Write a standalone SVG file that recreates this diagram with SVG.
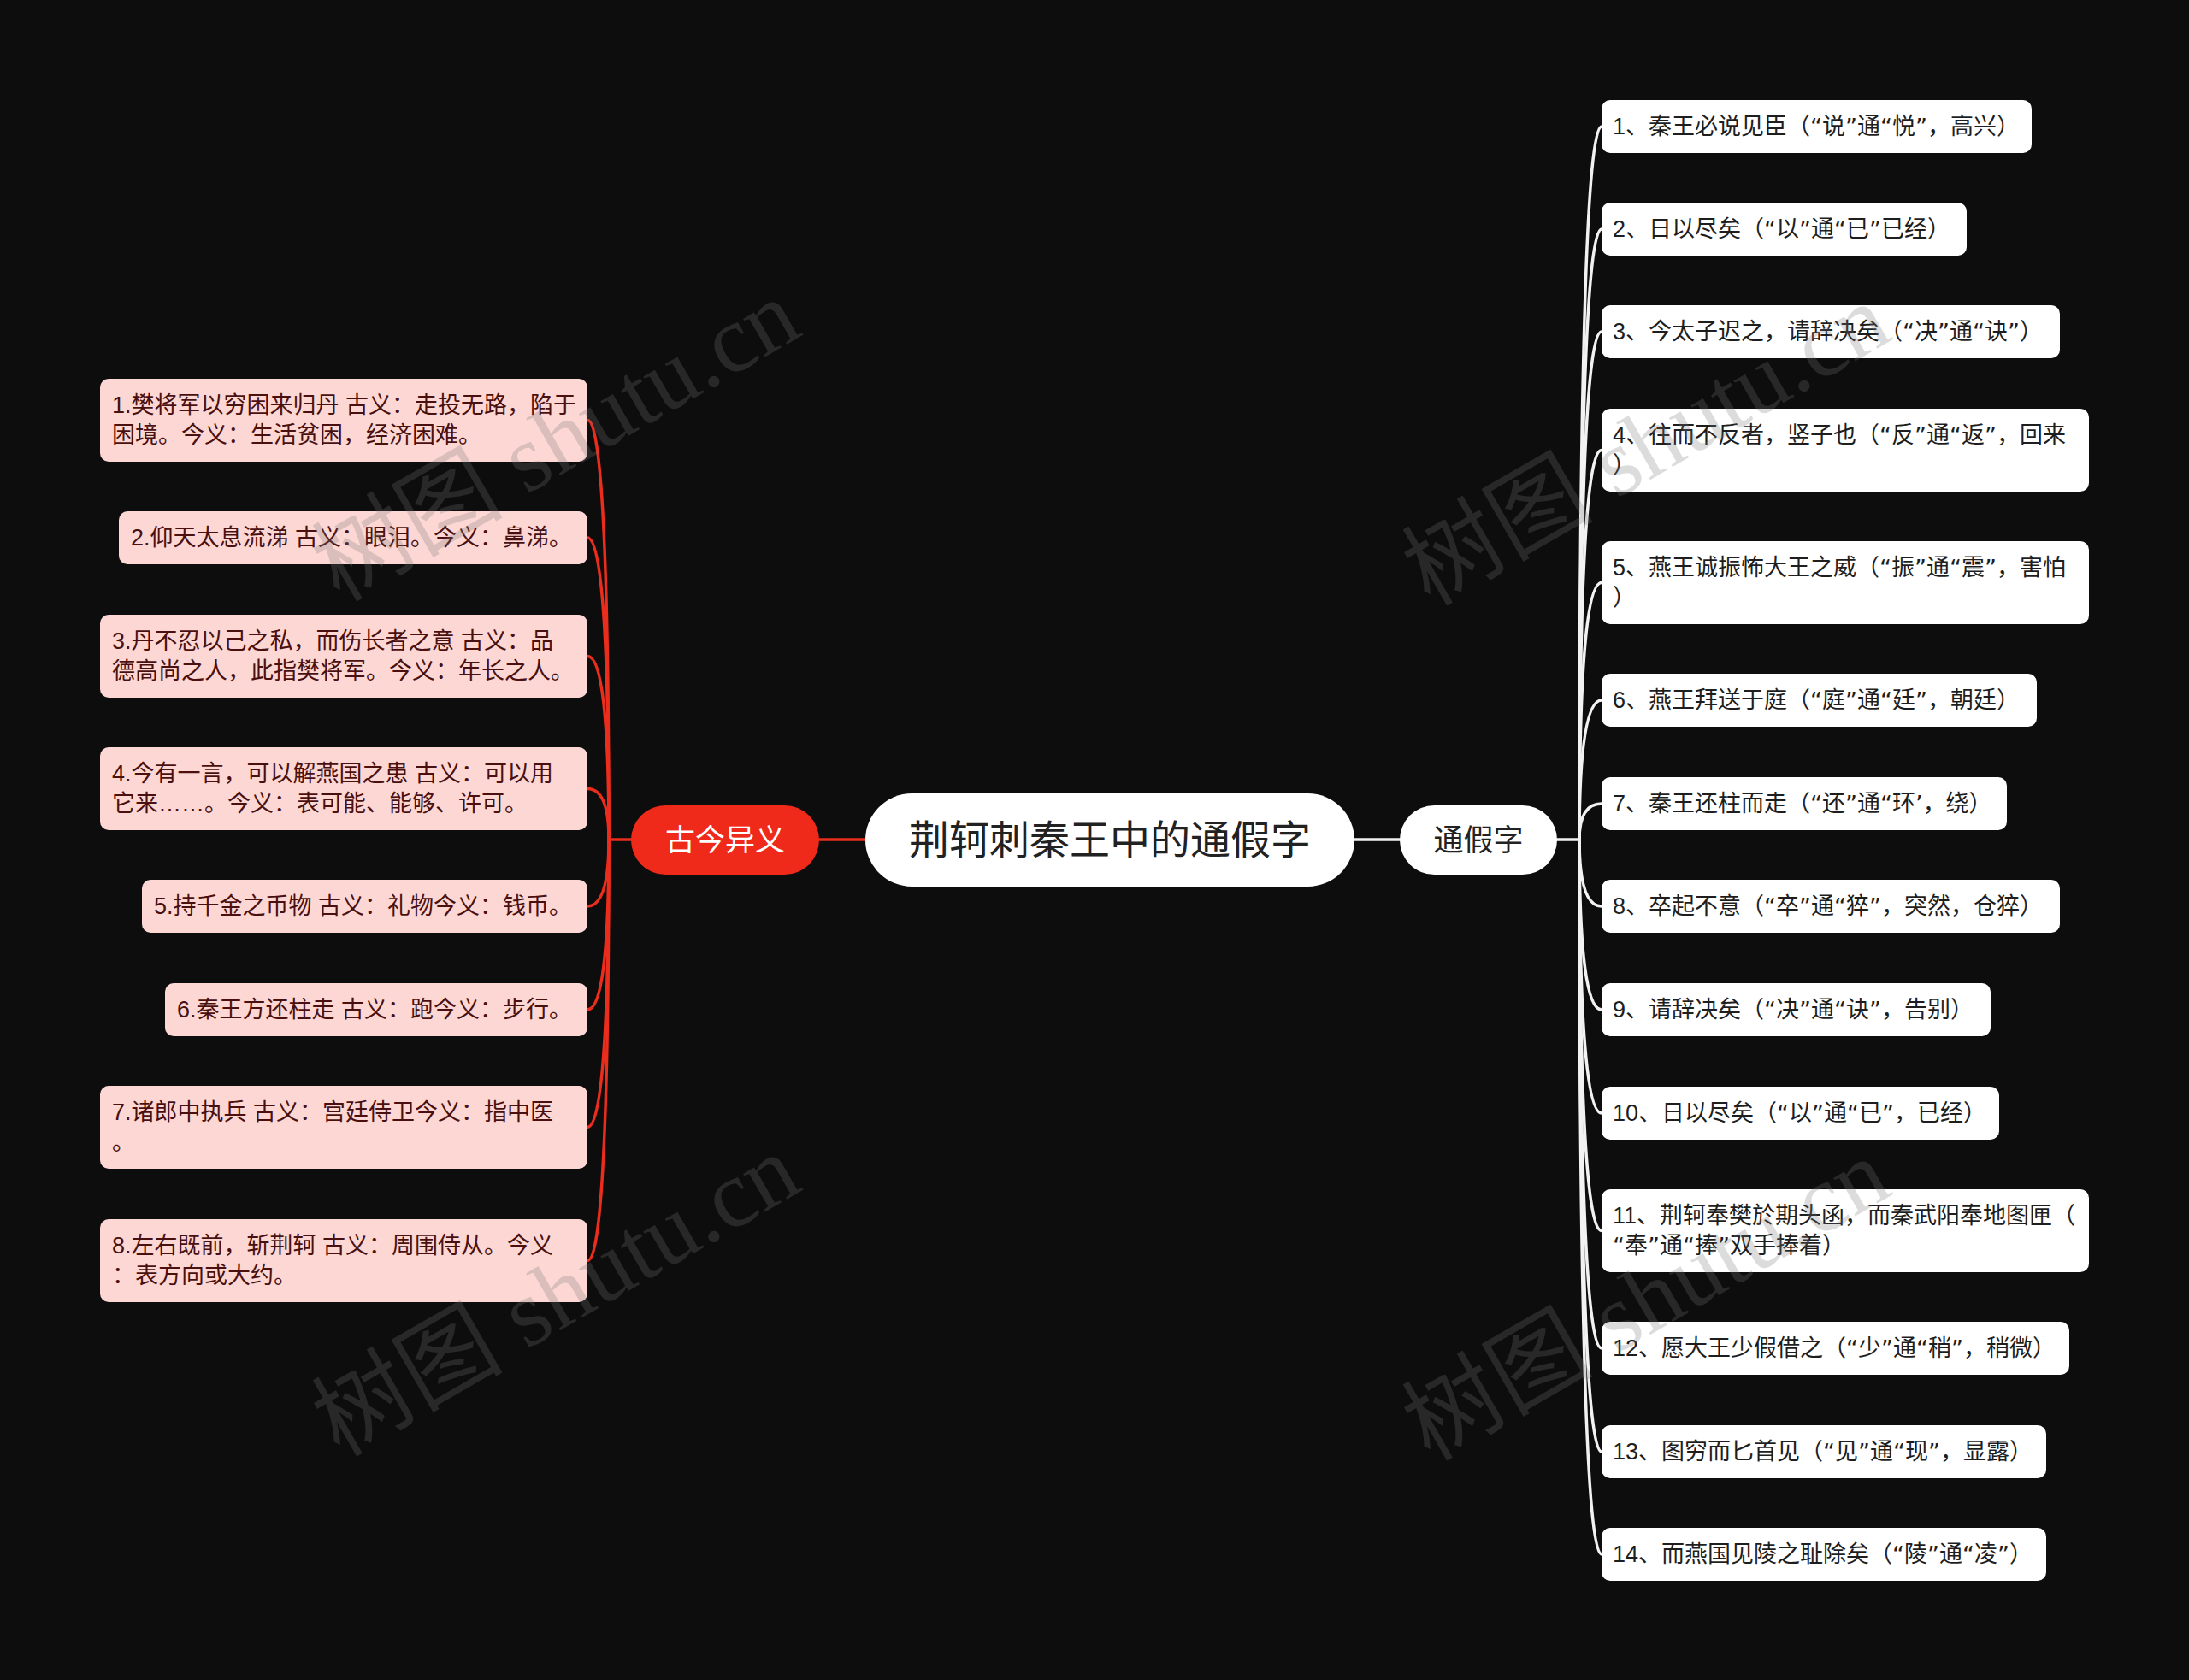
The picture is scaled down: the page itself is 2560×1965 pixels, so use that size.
<svg xmlns="http://www.w3.org/2000/svg" width="2560" height="1965" viewBox="0 0 2560 1965">
<style>
  .bg{fill:#0d0d0d}
  .t{font-family:"Liberation Sans","Noto Sans CJK SC",sans-serif;dominant-baseline:central}
  .q{font-family:"DejaVu Sans","Noto Sans CJK SC",sans-serif}
  .lbox{fill:#fdd7d3}
  .ltxt{font-size:27px;fill:#4a1010}
  .rbox{fill:#ffffff}
  .rtxt{font-size:27px;fill:#1e1e1e}
  .red{fill:none;stroke:#ea2d1d;stroke-width:3.5;stroke-linecap:round}
  .wht{fill:none;stroke:#f2f2f2;stroke-width:3.5;stroke-linecap:round}
  .wm{font-family:"Liberation Serif","Noto Sans CJK SC",serif;font-size:112px;fill:#797979;fill-opacity:0.26;text-anchor:middle;dominant-baseline:central}
</style>
<rect class="bg" x="0" y="0" width="2560" height="1965"/>

<g id="connectors">
  <path class="red" d="M958 982 H1012" stroke-width="4.5"/>
  <path class="wht" d="M1584 982 H1637" stroke-width="4.5"/>
  <path class="red" d="M738 982 H712"/>
  <path class="red" d="M712 982 Q712 491.5 687 491.5"/>
  <path class="red" d="M712 982 Q712 629 687 629"/>
  <path class="red" d="M712 982 Q712 767.5 687 767.5"/>
  <path class="red" d="M712 982 Q712 922.5 687 922.5"/>
  <path class="red" d="M712 982 Q712 1060 687 1060"/>
  <path class="red" d="M712 982 Q712 1181 687 1181"/>
  <path class="red" d="M712 982 Q712 1318.5 687 1318.5"/>
  <path class="red" d="M712 982 Q712 1474.5 687 1474.5"/>
  <path class="wht" d="M1821 982 H1847"/>
  <path class="wht" d="M1847 982 Q1847 148 1873 148"/>
  <path class="wht" d="M1847 982 Q1847 268 1873 268"/>
  <path class="wht" d="M1847 982 Q1847 388 1873 388"/>
  <path class="wht" d="M1847 982 Q1847 526.5 1873 526.5"/>
  <path class="wht" d="M1847 982 Q1847 681.5 1873 681.5"/>
  <path class="wht" d="M1847 982 Q1847 819 1873 819"/>
  <path class="wht" d="M1847 982 Q1847 940 1873 940"/>
  <path class="wht" d="M1847 982 Q1847 1060 1873 1060"/>
  <path class="wht" d="M1847 982 Q1847 1181 1873 1181"/>
  <path class="wht" d="M1847 982 Q1847 1302 1873 1302"/>
  <path class="wht" d="M1847 982 Q1847 1439.5 1873 1439.5"/>
  <path class="wht" d="M1847 982 Q1847 1577 1873 1577"/>
  <path class="wht" d="M1847 982 Q1847 1698 1873 1698"/>
  <path class="wht" d="M1847 982 Q1847 1818 1873 1818"/>
</g>

<g id="root">
  <rect x="1012" y="928" width="572" height="109" rx="54.5" fill="#ffffff"/>
  <text class="t" x="1298" y="982" font-size="47" fill="#222222" text-anchor="middle">荆轲刺秦王中的通假字</text>
</g>
<g id="branch-gujin">
  <rect x="738" y="942" width="220" height="81" rx="40.5" fill="#ef2a1a"/>
  <text class="t" x="848" y="982" font-size="35" fill="#ffffff" text-anchor="middle">古今异义</text>
</g>
<g id="branch-tongjia">
  <rect x="1637" y="942" width="184" height="81" rx="40.5" fill="#ffffff"/>
  <text class="t" x="1729" y="982" font-size="35" fill="#222222" text-anchor="middle">通假字</text>
</g>

<g id="L1"><rect class="lbox" x="117" y="443" width="570" height="97" rx="10"/>
  <text class="t ltxt" x="131" y="474">1.樊将军以穷困来归丹 古义：走投无路，陷于</text>
  <text class="t ltxt" x="131" y="509">困境。今义：生活贫困，经济困难。</text></g>
<g id="L2"><rect class="lbox" x="139" y="598" width="548" height="62" rx="10"/>
  <text class="t ltxt" x="153" y="629">2.仰天太息流涕 古义：眼泪。今义：鼻涕。</text></g>
<g id="L3"><rect class="lbox" x="117" y="719" width="570" height="97" rx="10"/>
  <text class="t ltxt" x="131" y="750">3.丹不忍以己之私，而伤长者之意 古义：品</text>
  <text class="t ltxt" x="131" y="785">德高尚之人，此指樊将军。今义：年长之人。</text></g>
<g id="L4"><rect class="lbox" x="117" y="874" width="570" height="97" rx="10"/>
  <text class="t ltxt" x="131" y="905">4.今有一言，可以解燕国之患 古义：可以用</text>
  <text class="t ltxt" x="131" y="940">它来……。今义：表可能、能够、许可。</text></g>
<g id="L5"><rect class="lbox" x="166" y="1029" width="521" height="62" rx="10"/>
  <text class="t ltxt" x="180" y="1060">5.持千金之币物 古义：礼物今义：钱币。</text></g>
<g id="L6"><rect class="lbox" x="193" y="1150" width="494" height="62" rx="10"/>
  <text class="t ltxt" x="207" y="1181">6.秦王方还柱走 古义：跑今义：步行。</text></g>
<g id="L7"><rect class="lbox" x="117" y="1270" width="570" height="97" rx="10"/>
  <text class="t ltxt" x="131" y="1301">7.诸郎中执兵 古义：宫廷侍卫今义：指中医</text>
  <text class="t ltxt" x="131" y="1336">。</text></g>
<g id="L8"><rect class="lbox" x="117" y="1426" width="570" height="97" rx="10"/>
  <text class="t ltxt" x="131" y="1457">8.左右既前，斩荆轲 古义：周围侍从。今义</text>
  <text class="t ltxt" x="131" y="1492">：表方向或大约。</text></g>

<g id="R1"><rect class="rbox" x="1873" y="117" width="503" height="62" rx="10"/>
  <text class="t rtxt" x="1886" y="148">1、秦王必说见臣（<tspan class="q">“</tspan>说<tspan class="q">”</tspan>通<tspan class="q">“</tspan>悦<tspan class="q">”</tspan>，高兴）</text></g>
<g id="R2"><rect class="rbox" x="1873" y="237" width="427" height="62" rx="10"/>
  <text class="t rtxt" x="1886" y="268">2、日以尽矣（<tspan class="q">“</tspan>以<tspan class="q">”</tspan>通<tspan class="q">“</tspan>已<tspan class="q">”</tspan>已经）</text></g>
<g id="R3"><rect class="rbox" x="1873" y="357" width="536" height="62" rx="10"/>
  <text class="t rtxt" x="1886" y="388">3、今太子迟之，请辞决矣（<tspan class="q">“</tspan>决<tspan class="q">”</tspan>通<tspan class="q">“</tspan>诀<tspan class="q">”</tspan>）</text></g>
<g id="R4"><rect class="rbox" x="1873" y="478" width="570" height="97" rx="10"/>
  <text class="t rtxt" x="1886" y="509">4、往而不反者，竖子也（<tspan class="q">“</tspan>反<tspan class="q">”</tspan>通<tspan class="q">“</tspan>返<tspan class="q">”</tspan>，回来</text>
  <text class="t rtxt" x="1886" y="544">）</text></g>
<g id="R5"><rect class="rbox" x="1873" y="633" width="570" height="97" rx="10"/>
  <text class="t rtxt" x="1886" y="664">5、燕王诚振怖大王之威（<tspan class="q">“</tspan>振<tspan class="q">”</tspan>通<tspan class="q">“</tspan>震<tspan class="q">”</tspan>，害怕</text>
  <text class="t rtxt" x="1886" y="699">）</text></g>
<g id="R6"><rect class="rbox" x="1873" y="788" width="509" height="62" rx="10"/>
  <text class="t rtxt" x="1886" y="819">6、燕王拜送于庭（<tspan class="q">“</tspan>庭<tspan class="q">”</tspan>通<tspan class="q">“</tspan>廷<tspan class="q">”</tspan>，朝廷）</text></g>
<g id="R7"><rect class="rbox" x="1873" y="909" width="474" height="62" rx="10"/>
  <text class="t rtxt" x="1886" y="940">7、秦王还柱而走（<tspan class="q">“</tspan>还<tspan class="q">”</tspan>通<tspan class="q">“</tspan>环<tspan class="q">’</tspan>，绕）</text></g>
<g id="R8"><rect class="rbox" x="1873" y="1029" width="536" height="62" rx="10"/>
  <text class="t rtxt" x="1886" y="1060">8、卒起不意（<tspan class="q">“</tspan>卒<tspan class="q">”</tspan>通<tspan class="q">“</tspan>猝<tspan class="q">”</tspan>，突然，仓猝）</text></g>
<g id="R9"><rect class="rbox" x="1873" y="1150" width="455" height="62" rx="10"/>
  <text class="t rtxt" x="1886" y="1181">9、请辞决矣（<tspan class="q">“</tspan>决<tspan class="q">”</tspan>通<tspan class="q">“</tspan>诀<tspan class="q">”</tspan>，告别）</text></g>
<g id="R10"><rect class="rbox" x="1873" y="1271" width="465" height="62" rx="10"/>
  <text class="t rtxt" x="1886" y="1302">10、日以尽矣（<tspan class="q">“</tspan>以<tspan class="q">”</tspan>通<tspan class="q">“</tspan>已<tspan class="q">”</tspan>，已经）</text></g>
<g id="R11"><rect class="rbox" x="1873" y="1391" width="570" height="97" rx="10"/>
  <text class="t rtxt" x="1886" y="1422">11、荆轲奉樊於期头函，而秦武阳奉地图匣（</text>
  <text class="t rtxt" x="1886" y="1457"><tspan class="q">“</tspan>奉<tspan class="q">”</tspan>通<tspan class="q">“</tspan>捧<tspan class="q">”</tspan>双手捧着）</text></g>
<g id="R12"><rect class="rbox" x="1873" y="1546" width="547" height="62" rx="10"/>
  <text class="t rtxt" x="1886" y="1577">12、愿大王少假借之（<tspan class="q">“</tspan>少<tspan class="q">”</tspan>通<tspan class="q">“</tspan>稍<tspan class="q">”</tspan>，稍微）</text></g>
<g id="R13"><rect class="rbox" x="1873" y="1667" width="520" height="62" rx="10"/>
  <text class="t rtxt" x="1886" y="1698">13、图穷而匕首见（<tspan class="q">“</tspan>见<tspan class="q">”</tspan>通<tspan class="q">“</tspan>现<tspan class="q">”</tspan>，显露）</text></g>
<g id="R14"><rect class="rbox" x="1873" y="1787" width="520" height="62" rx="10"/>
  <text class="t rtxt" x="1886" y="1818">14、而燕国见陵之耻除矣（<tspan class="q">“</tspan>陵<tspan class="q">”</tspan>通<tspan class="q">“</tspan>凌<tspan class="q">”</tspan>）</text></g>

<g id="watermarks">
  <text class="wm" transform="translate(650 515) rotate(-30)">树图 shutu.cn</text>
  <text class="wm" transform="translate(1925 520) rotate(-30)">树图 shutu.cn</text>
  <text class="wm" transform="translate(650 1515) rotate(-30)">树图 shutu.cn</text>
  <text class="wm" transform="translate(1925 1520) rotate(-30)">树图 shutu.cn</text>
</g>
</svg>
